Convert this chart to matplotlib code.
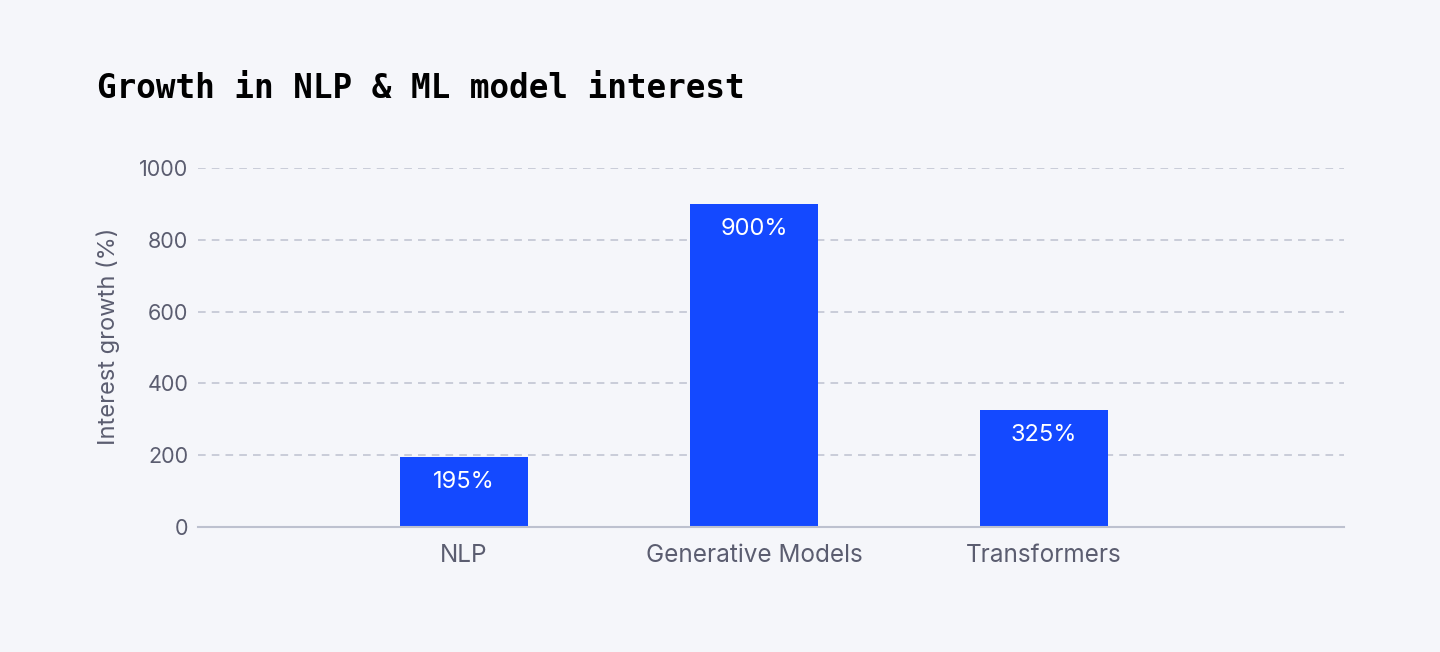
import matplotlib.pyplot as plt

categories = ["NLP", "Generative Models", "Transformers"]
growth = [195, 900, 325]
bar_labels = ["195%", "900%", "325%"]
y_ticks = [0, 200, 400, 600, 800, 1000]

bg = "#f5f6fa"
bar_color = "#1449ff"
grid_color = "#bdc1cf"
text_color = "#5b5d70"

plt.rcParams["font.family"] = ["Inter", "DejaVu Sans"]

fig = plt.figure(figsize=(14.4, 6.52), dpi=100, facecolor=bg)
ax = fig.add_axes([198 / 1440, 1 - 527 / 652, 1146 / 1440, 359 / 652])
ax.set_facecolor(bg)

x = list(range(len(categories)))
ax.bar(x, growth, width=0.441, color=bar_color, zorder=3)

for xi, val, lab in zip(x, growth, bar_labels):
    ax.annotate(lab, (xi, val), xytext=(0, -25), textcoords="offset pixels",
                ha="center", va="center", color="white", fontsize=17, zorder=4)

ax.set_xlim(-266 / 290, 2 + 300 / 290)
ax.set_ylim(0, 1000)
ax.set_yticks(y_ticks)
ax.set_xticks(x)
ax.set_xticklabels(categories)

ax.yaxis.grid(True, color=grid_color, linestyle=(0, (5, 4)), linewidth=1.1, zorder=0)
ax.xaxis.grid(False)
for s in ["top", "right", "left"]:
    ax.spines[s].set_visible(False)
ax.spines["bottom"].set_color(grid_color)
ax.spines["bottom"].set_linewidth(1.5)
ax.spines["bottom"].set_zorder(5)

ax.tick_params(axis="both", length=0, labelcolor=text_color)
ax.tick_params(axis="y", pad=7, labelsize=15.5)
ax.tick_params(axis="x", pad=12, labelsize=17.5)

ax.set_ylabel("Interest growth (%)", fontsize=17, color=text_color)
ax.yaxis.set_label_coords((120 - 198) / 1146, (527 - 336) / 359)

fig.text(97 / 1440, 1 - 98 / 652, "Growth in NLP & ML model interest",
         fontsize=23.5, fontweight="bold", family="DejaVu Sans Mono",
         color="#000000", ha="left", va="baseline")

fig.savefig("out.png", dpi=100, facecolor=bg)
